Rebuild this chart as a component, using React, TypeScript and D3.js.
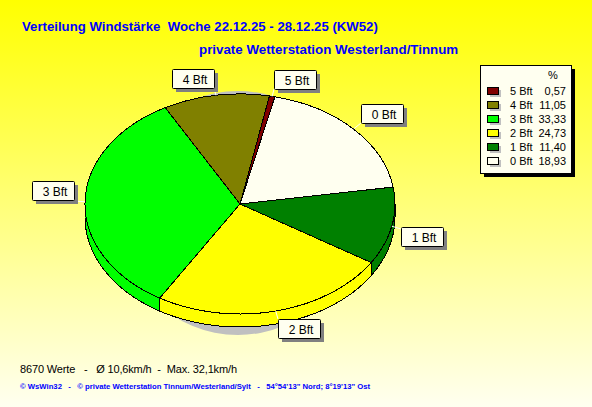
import React from 'react';
import * as d3 from 'd3';

const categories = ['0 Bft', '1 Bft', '2 Bft', '3 Bft', '4 Bft', '5 Bft'];
const percents = [18.93, 11.4, 24.73, 33.33, 11.05, 0.57];
const colors = ['#fffff0', '#008000', '#ffff00', '#00ff00', '#808000', '#800000'];
const percentLabels = ['18,93', '11,40', '24,73', '33,33', '11,05', '0,57'];

const width = 592;
const height = 407;
const cx = 240;
const cy = 204;
const rx = 155;
const ry = 110;
const depth = 13;
const startAngle = (13 * Math.PI) / 180;

// label box top-left corners, same order as categories
const labelPos = [[361, 104], [401, 227], [278, 319], [32, 181], [172, 69], [274, 70]];
// where the white leader line meets each box
const leaderEnd = [[361, 123], [401, 229], [278, 319], [74, 201], [214, 88], [274, 89]];
const boxW = 42;
const boxH = 19;

const font = '"Liberation Sans", Arial, sans-serif';

const slices = d3.pie<number>()
  .sort(null)
  .startAngle(startAngle)
  .endAngle(startAngle + 2 * Math.PI)(percents);

const arc = d3.arc<d3.PieArcDatum<number>>().innerRadius(0).outerRadius(rx);

const rimX = (t: number) => cx + rx * Math.sin(t);
const rimY = (t: number) => cy - ry * Math.cos(t);

// side wall, only the front half of the pie can be seen
const wall = d3.area<number>()
  .x(rimX)
  .y0(rimY)
  .y1(t => rimY(t) + depth);

const wallPath = (a0: number, a1: number) => {
  const from = Math.max(a0, Math.PI / 2);
  const to = Math.min(a1, (3 * Math.PI) / 2);
  if (to <= from) return null;
  const n = Math.ceil((to - from) / 0.03);
  return wall(d3.range(n + 1).map(i => from + ((to - from) * i) / n));
};

const legendY = d3.scalePoint<string>()
  .domain([...categories].reverse())
  .range([91, 161]);

export default () => {
  return (
    <svg
      width={width}
      height={height}
      style={{ position: 'absolute', left: 0, top: 0, display: 'block', fontFamily: font }}
    >
      <defs>
        <linearGradient id="bg" x1="0" y1="0" x2="0" y2="1">
          <stop offset="0" stopColor="#ffff00" />
          <stop offset="1" stopColor="#fffff0" />
        </linearGradient>
      </defs>
      <rect width={width} height={height} fill="url(#bg)" />

      <text x={22} y={31} fontSize={13.2} fontWeight="bold" fill="#0000ff" style={{ whiteSpace: 'pre' }}>
        Verteilung Windstärke  Woche 22.12.25 - 28.12.25 (KW52)
      </text>
      <text x={199} y={54} fontSize={13.33} fontWeight="bold" fill="#0000ff">
        private Wetterstation Westerland/Tinnum
      </text>

      {/* shadow */}
      <ellipse cx={238} cy={213} rx={120} ry={122} fill="#c0c0c0" />

      {/* pie */}
      <g shapeRendering="crispEdges">
        {slices.map((s, i) => {
          const d = wallPath(s.startAngle, s.endAngle);
          return d ? <path key={i} d={d} fill={colors[i]} stroke="#000" strokeWidth={1} /> : null;
        })}
        {slices.map((s, i) => (
          <path
            key={i}
            d={arc(s) || ''}
            transform={`translate(${cx},${cy}) scale(1,${ry / rx})`}
            fill={colors[i]}
            stroke="#000"
            strokeWidth={1}
            vectorEffect="non-scaling-stroke"
          />
        ))}
      </g>

      {/* labels */}
      {slices.map((s, i) => {
        const mid = (s.startAngle + s.endAngle) / 2;
        return (
          <line
            key={i}
            x1={rimX(mid)}
            y1={rimY(mid)}
            x2={leaderEnd[i][0]}
            y2={leaderEnd[i][1]}
            stroke="#fff"
            strokeWidth={1}
          />
        );
      })}
      {categories.map((c, i) => {
        const [x, y] = labelPos[i];
        return (
          <g key={c}>
            <rect x={x + 4} y={y + 4} width={boxW} height={boxH} fill="#808080" />
            <rect x={x + 0.5} y={y + 0.5} width={boxW} height={boxH} rx={1} fill="#fffff0" stroke="#000" />
            <text x={x + 23} y={y + 15} fontSize={12} textAnchor="middle" fill="#000">{c}</text>
          </g>
        );
      })}

      {/* legend */}
      <rect x={484} y={69} width={91} height={108} fill="#000" />
      <rect x={480.5} y={65.5} width={91} height={108} fill="#fffff0" stroke="#000" />
      <text x={553} y={79} fontSize={11} textAnchor="middle" fill="#000">%</text>
      {categories.map((c, i) => {
        const y = legendY(c) || 0;
        return (
          <g key={c}>
            <rect x={490} y={y - 1} width={11} height={7} fill="#c0c0c0" />
            <rect x={487.5} y={y - 3.5} width={11} height={7} fill={colors[i]} stroke="#000" />
            <text x={510} y={y + 4} fontSize={11} fill="#000">{c}</text>
            <text x={566} y={y + 4} fontSize={11} textAnchor="end" fill="#000">{percentLabels[i]}</text>
          </g>
        );
      })}

      {/* footer */}
      <text x={20} y={373} fontSize={11} textLength={217} fill="#000" style={{ whiteSpace: 'pre' }}>
        8670 Werte   -   Ø 10,6km/h  -  Max. 32,1km/h
      </text>
      <text x={20} y={389} fontSize={7.7} fontWeight="bold" fill="#0000ff" style={{ whiteSpace: 'pre' }}>
        © WsWin32   -   © private Wetterstation Tinnum/Westerland/Sylt   -   54°54'13" Nord; 8°19'13" Ost
      </text>
    </svg>
  );
};
